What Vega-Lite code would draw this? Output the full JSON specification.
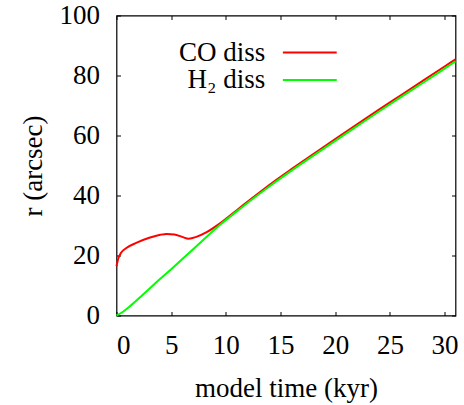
{
  "$schema": "https://vega.github.io/schema/vega-lite/v6.json",
  "width": 339,
  "height": 300,
  "autosize": "none",
  "padding": {"left": 116.5, "top": 15.5, "right": 8.5, "bottom": 89.5},
  "config": {
    "font": "Liberation Serif",
    "view": {"stroke": "#000000", "strokeWidth": 1.2},
    "axis": {
      "domain": false,
      "grid": false,
      "tickColor": "#000000",
      "tickSize": -4,
      "tickWidth": 1,
      "labelFont": "Liberation Serif",
      "labelFontSize": 27,
      "labelColor": "#000000",
      "titleFont": "Liberation Serif",
      "titleFontSize": 27,
      "titleFontWeight": "normal",
      "titleColor": "#000000"
    }
  },
  "data": {
    "values": [
      {"t": 0, "r": 16.4, "series": "CO diss"},
      {"t": 0.15, "r": 18.8, "series": "CO diss"},
      {"t": 0.4, "r": 20.8, "series": "CO diss"},
      {"t": 0.9, "r": 22.5, "series": "CO diss"},
      {"t": 1.8, "r": 24.2, "series": "CO diss"},
      {"t": 3.0, "r": 25.9, "series": "CO diss"},
      {"t": 4.0, "r": 26.9, "series": "CO diss"},
      {"t": 4.6, "r": 27.2, "series": "CO diss"},
      {"t": 5.3, "r": 27.0, "series": "CO diss"},
      {"t": 6.0, "r": 26.2, "series": "CO diss"},
      {"t": 6.6, "r": 25.6, "series": "CO diss"},
      {"t": 7.3, "r": 26.2, "series": "CO diss"},
      {"t": 8.2, "r": 27.7, "series": "CO diss"},
      {"t": 9.5, "r": 30.8, "series": "CO diss"},
      {"t": 11, "r": 35.1, "series": "CO diss"},
      {"t": 12.5, "r": 39.4, "series": "CO diss"},
      {"t": 14, "r": 43.6, "series": "CO diss"},
      {"t": 16, "r": 48.8, "series": "CO diss"},
      {"t": 18, "r": 53.8, "series": "CO diss"},
      {"t": 20, "r": 58.8, "series": "CO diss"},
      {"t": 22, "r": 63.7, "series": "CO diss"},
      {"t": 24, "r": 68.6, "series": "CO diss"},
      {"t": 26, "r": 73.4, "series": "CO diss"},
      {"t": 28, "r": 78.2, "series": "CO diss"},
      {"t": 30, "r": 83.0, "series": "CO diss"},
      {"t": 31, "r": 85.4, "series": "CO diss"},
      {"t": 0, "r": 0, "series": "H₂ diss"},
      {"t": 0.5, "r": 1.0, "series": "H₂ diss"},
      {"t": 1.2, "r": 3.0, "series": "H₂ diss"},
      {"t": 2.4, "r": 6.9, "series": "H₂ diss"},
      {"t": 3.5, "r": 10.6, "series": "H₂ diss"},
      {"t": 5, "r": 15.4, "series": "H₂ diss"},
      {"t": 6.5, "r": 20.4, "series": "H₂ diss"},
      {"t": 8, "r": 25.4, "series": "H₂ diss"},
      {"t": 9.5, "r": 30.3, "series": "H₂ diss"},
      {"t": 11, "r": 34.7, "series": "H₂ diss"},
      {"t": 12.5, "r": 39.0, "series": "H₂ diss"},
      {"t": 14, "r": 43.1, "series": "H₂ diss"},
      {"t": 16, "r": 48.3, "series": "H₂ diss"},
      {"t": 18, "r": 53.3, "series": "H₂ diss"},
      {"t": 20, "r": 58.2, "series": "H₂ diss"},
      {"t": 22, "r": 63.1, "series": "H₂ diss"},
      {"t": 24, "r": 68.0, "series": "H₂ diss"},
      {"t": 26, "r": 72.8, "series": "H₂ diss"},
      {"t": 28, "r": 77.5, "series": "H₂ diss"},
      {"t": 30, "r": 82.3, "series": "H₂ diss"},
      {"t": 31, "r": 84.7, "series": "H₂ diss"}
    ]
  },
  "layer": [
    {
      "mark": {"type": "line", "strokeWidth": 2, "interpolate": "monotone"},
      "encoding": {
        "x": {
          "field": "t", "type": "quantitative",
          "scale": {"domain": [0, 31], "nice": false, "zero": false},
          "axis": {"values": [0, 5, 10, 15, 20, 25, 30], "title": "model time (kyr)", "labelPadding": 21, "titlePadding": 17}
        },
        "y": {
          "field": "r", "type": "quantitative",
          "scale": {"domain": [0, 100], "nice": false},
          "axis": {"values": [0, 20, 40, 60, 80, 100], "title": "r (arcsec)", "labelPadding": 21, "titlePadding": 12}
        },
        "color": {
          "field": "series", "type": "nominal",
          "scale": {"domain": ["CO diss", "H₂ diss"], "range": ["#ff0000", "#00ff00"]},
          "legend": {
            "title": null,
            "orient": "none",
            "legendX": 179.8,
            "legendY": 23.5,
            "padding": 0,
            "symbolType": "M-5,0H5",
            "symbolSize": 116,
            "symbolStrokeWidth": 2,
            "labelFont": "Liberation Serif",
            "labelFontSize": 27,
            "labelColor": "#000000",
            "labelAlign": "right",
            "labelOffset": -58,
            "rowPadding": -0.5
          }
        }
      }
    },
    {
      "mark": {"type": "line", "opacity": 0},
      "encoding": {
        "x": {"field": "t", "type": "quantitative", "axis": {"orient": "top", "values": [0, 5, 10, 15, 20, 25, 30], "labels": false, "title": null}},
        "y": {"field": "r", "type": "quantitative", "axis": {"orient": "right", "values": [0, 20, 40, 60, 80, 100], "labels": false, "title": null}},
        "detail": {"field": "series"}
      }
    }
  ],
  "resolve": {"axis": {"x": "independent", "y": "independent"}}
}
